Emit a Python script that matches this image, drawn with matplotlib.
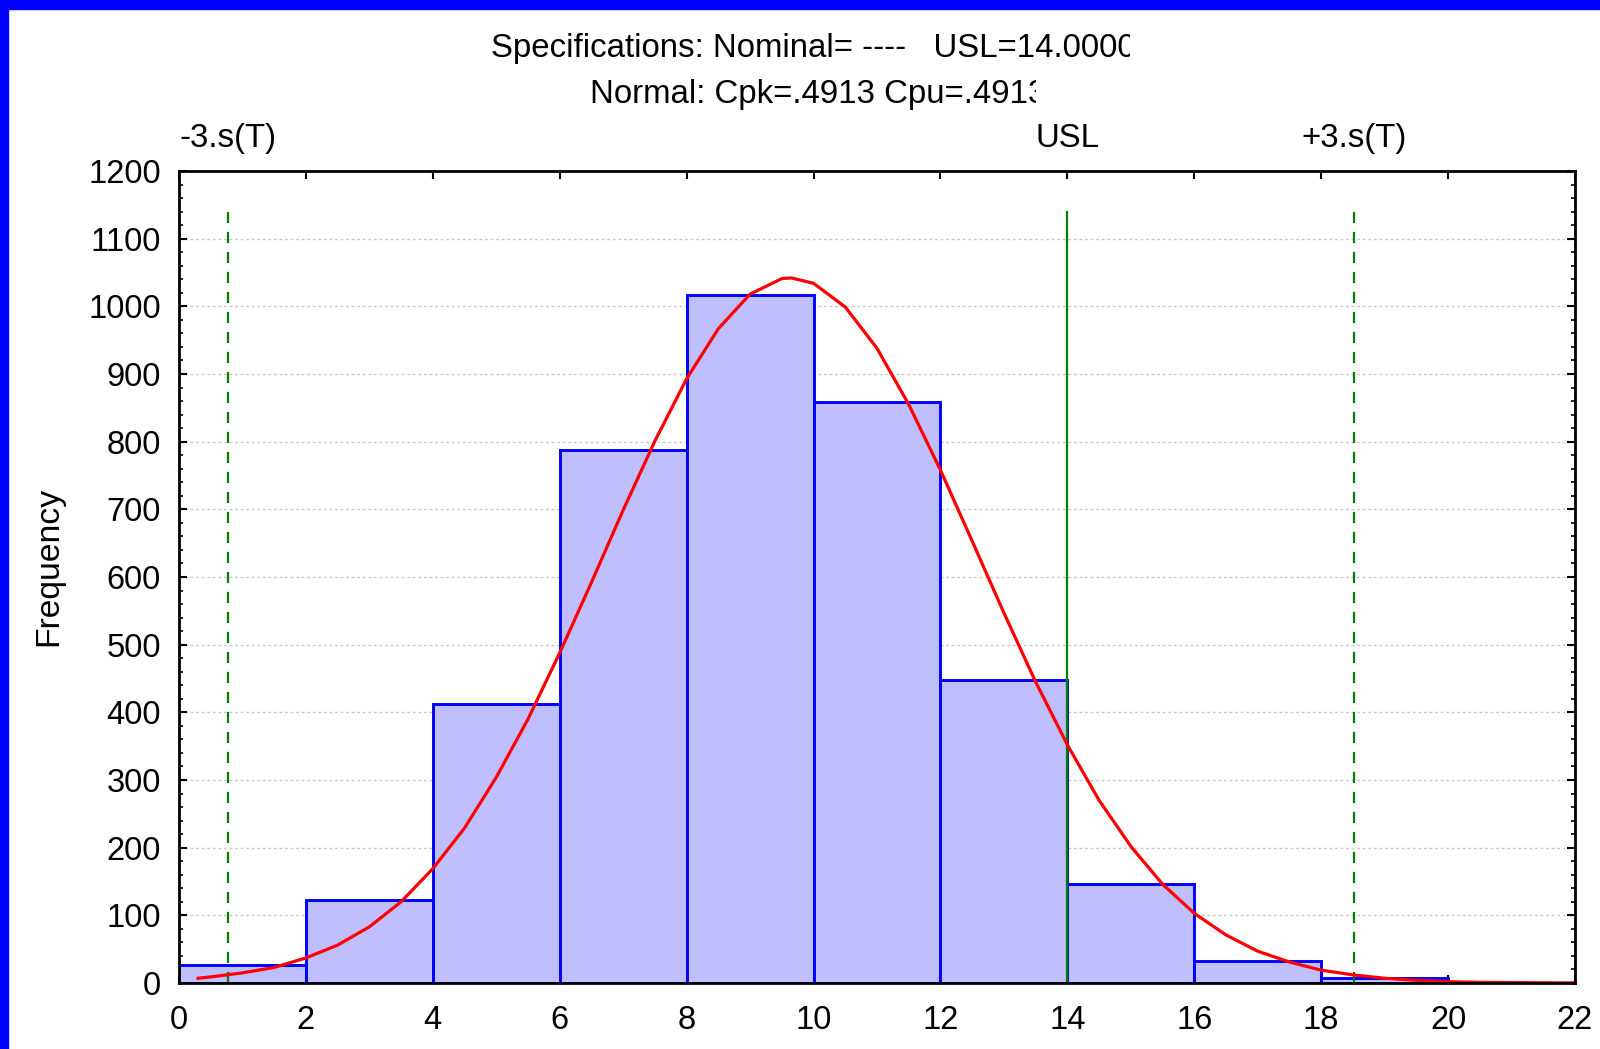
import numpy as np
import matplotlib
matplotlib.use('Agg')
import matplotlib.pyplot as plt
from matplotlib.patches import Rectangle
from matplotlib.transforms import Bbox

plt.rcParams['font.family'] = ['Liberation Sans', 'DejaVu Sans']

# histogram (bin edges every 2 units)
bin_edges = [0, 2, 4, 6, 8, 10, 12, 14, 16, 18, 20]
counts = [27, 123, 413, 788, 1017, 858, 448, 147, 32, 7]

# fitted normal curve
curve_x = [0.3, 0.5, 1, 1.5, 2, 2.5, 3, 3.5, 4, 4.5, 5, 5.5, 6, 6.5, 7, 7.5, 8, 8.5,
           9, 9.5, 9.65, 10, 10.5, 11, 11.5, 12, 12.5, 13, 13.5, 14, 14.5, 15, 15.5,
           16, 16.5, 17, 17.5, 18, 18.5, 19, 19.5, 20, 20.5, 21, 21.5, 22]
curve_y = [7, 9, 15, 23, 37, 56, 83, 120, 169, 229, 304, 390, 488, 592, 699, 801, 893, 967,
           1018, 1041, 1042, 1034, 999, 938, 855, 758, 653, 547, 445, 352, 270, 202, 146,
           103, 71, 47, 31, 19, 12, 7, 4, 2, 1, 0.6, 0.3, 0.1]

# spec lines
minus3s = 0.77
usl = 14.0
plus3s = 18.51
line_top = 1140

title1 = 'Specifications: Nominal= ----   USL=14.0000'
title2 = 'Normal: Cpk=.4913 Cpu=.4913'

FS = 23.5
W, H = 1600, 1049
fig = plt.figure(figsize=(W / 100, H / 100), dpi=100)
ax = fig.add_axes([179 / W, 1 - 983 / H, (1575 - 179) / W, (983 - 171) / H])

widths = np.diff(bin_edges)
ax.bar(bin_edges[:-1], counts, width=widths, align='edge',
       color='#bfbfff', edgecolor='#0000ff', linewidth=2.1, zorder=2)
ax.plot(curve_x, curve_y, color='#ff0000', lw=2.3, zorder=4)

green = '#007f00'
ax.plot([minus3s, minus3s], [0, line_top], color=green, lw=1.6, ls=(0, (5, 4)), zorder=3)
ax.plot([usl, usl], [0, line_top], color=green, lw=1.6, zorder=3)
ax.plot([plus3s, plus3s], [0, line_top], color=green, lw=1.6, ls=(0, (5, 4)), zorder=3)

ax.set_xlim(0, 22)
ax.set_ylim(0, 1200)
ax.set_xticks(range(0, 23, 2))
ax.set_yticks(range(0, 1201, 100))
ax.set_yticks(range(0, 1201, 20), minor=True)
ax.grid(axis='y', which='major', color='#c8c8c8', ls=(0, (2, 2)), lw=1, zorder=0)
ax.set_axisbelow(True)

ax.tick_params(axis='both', which='major', direction='in', length=6, width=1.5,
               labelsize=FS, top=True, right=True)
ax.tick_params(axis='x', pad=16)
ax.tick_params(axis='y', pad=13)
ax.tick_params(axis='y', which='minor', direction='in', length=3, width=1.2,
               left=True, right=True)
for s in ax.spines.values():
    s.set_linewidth(2)
    s.set_color('black')
    s.set_zorder(5)

ax.set_ylabel('Frequency', fontsize=24.3, labelpad=17)
ax.yaxis.label.set_y(0.513)

# labels above spec lines
for xv, lab in [(minus3s, '-3.s(T)'), (usl, 'USL'), (plus3s, '+3.s(T)')]:
    ax.text(xv, 1.04, lab, transform=ax.get_xaxis_transform(), ha='center', va='center', fontsize=23.8)

# titles, clipped on the right like the original
t1 = fig.text(491 / W, 1 - 49 / H, title1, ha='left', va='center', fontsize=23.8)
t1.set_clip_box(Bbox.from_extents(0, 0, 1130, H))
t1.set_clip_on(True)
t2 = fig.text(590 / W, 1 - 94 / H, title2, ha='left', va='center', fontsize=23.8)
t2.set_clip_box(Bbox.from_extents(0, 0, 1036, H))
t2.set_clip_on(True)

# blue frame on top and left
fig.patches.append(Rectangle((0, 1 - 9 / H), 1, 9 / H, transform=fig.transFigure,
                             color='#0000ff', zorder=10))
fig.patches.append(Rectangle((0, 0), 8 / W, 1, transform=fig.transFigure,
                             color='#0000ff', zorder=10))

fig.savefig('out.png', dpi=100)
